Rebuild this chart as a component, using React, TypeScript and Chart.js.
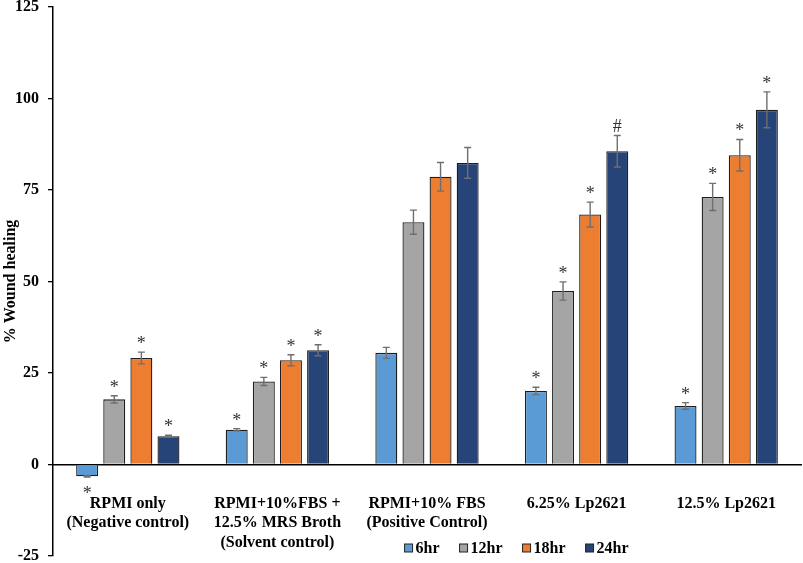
import React, { useEffect, useRef } from "react";
import Chart from "chart.js/auto";

const categories = [
  ["RPMI only", "(Negative control)"],
  ["RPMI+10%FBS +", "12.5% MRS Broth", "(Solvent control)"],
  ["RPMI+10% FBS", "(Positive Control)"],
  "6.25% Lp2621",
  "12.5% Lp2621",
];
const seriesNames = ["6hr", "12hr", "18hr", "24hr"];
const values6 = [-3.2, 9.5, 30.5, 20.1, 16.0];
const values12 = [17.8, 22.7, 66.2, 47.4, 73.1];
const values18 = [29.1, 28.5, 78.6, 68.3, 84.5];
const values24 = [7.7, 31.2, 82.4, 85.6, 96.9];
const err6 = [0.2, 0.3, 1.5, 1.0, 0.9];
const err12 = [1.0, 1.1, 3.3, 2.5, 3.7];
const err18 = [1.6, 1.5, 3.9, 3.4, 4.3];
const err24 = [0.3, 1.5, 4.2, 4.3, 4.9];
const marks6 = ["*", "*", "", "*", "*"];
const marks12 = ["*", "*", "", "*", "*"];
const marks18 = ["*", "*", "", "*", "*"];
const marks24 = ["*", "*", "", "#", "*"];
const colors = ["#5B9BD5", "#A5A5A5", "#ED7D31", "#264478"];

const allValues = [values6, values12, values18, values24];
const allErrors = [err6, err12, err18, err24];
const allMarks = [marks6, marks12, marks18, marks24];

const FONT = "'Liberation Serif', 'Times New Roman', serif";

// error bars + significance marks
const errorBarPlugin = {
  id: "errorBars",
  afterDatasetsDraw(chart: any) {
    const ctx = chart.ctx;
    const yScale = chart.scales.y;
    ctx.save();
    chart.data.datasets.forEach((ds: any, i: number) => {
      const meta = chart.getDatasetMeta(i);
      meta.data.forEach((bar: any, j: number) => {
        const v = ds.data[j];
        const e = allErrors[i][j];
        const top = yScale.getPixelForValue(v + e);
        const bot = yScale.getPixelForValue(v - e);
        ctx.strokeStyle = "#6f6f6f";
        ctx.lineWidth = 1.4;
        ctx.beginPath();
        ctx.moveTo(bar.x, top);
        ctx.lineTo(bar.x, bot);
        ctx.moveTo(bar.x - 3.5, top);
        ctx.lineTo(bar.x + 3.5, top);
        ctx.moveTo(bar.x - 3.5, bot);
        ctx.lineTo(bar.x + 3.5, bot);
        ctx.stroke();

        const m = allMarks[i][j];
        if (m) {
          ctx.fillStyle = "#333";
          ctx.font = "18px " + FONT;
          ctx.textAlign = "center";
          ctx.textBaseline = "alphabetic";
          if (v >= 0) ctx.fillText(m, bar.x, top - 3);
          else ctx.fillText(m, bar.x, bot + 22);
        }
      });
    });
    ctx.restore();
  },
};

const legendPlugin = {
  id: "innerLegend",
  afterDraw(chart: any) {
    const ctx = chart.ctx;
    const area = chart.chartArea;
    ctx.save();
    ctx.font = "bold 16px " + FONT;
    ctx.textBaseline = "middle";
    ctx.textAlign = "left";
    let x = area.left + area.width * 0.47;
    const y = area.bottom - 8;
    chart.data.datasets.forEach((ds: any) => {
      ctx.fillStyle = ds.backgroundColor;
      ctx.fillRect(x, y - 4, 8, 8);
      ctx.strokeStyle = "#222";
      ctx.lineWidth = 1;
      ctx.strokeRect(x, y - 4, 8, 8);
      ctx.fillStyle = "#000";
      ctx.fillText(ds.label, x + 11, y + 1);
      x += 11 + ctx.measureText(ds.label).width + 20;
    });
    ctx.restore();
  },
};

const WoundChart = () => {
  const chartRef = useRef<any>(null);
  const chartInstanceRef = useRef<any>(null);

  useEffect(() => {
    const ctx = chartRef.current.getContext("2d");
    if (chartInstanceRef.current) chartInstanceRef.current.destroy();

    chartInstanceRef.current = new Chart(ctx, {
      type: "bar",
      data: {
        labels: categories,
        datasets: seriesNames.map((name, i) => ({
          label: name,
          data: allValues[i],
          backgroundColor: colors[i],
          borderColor: "#1e1e1e",
          borderWidth: 1.3,
          categoryPercentage: 0.725,
          barPercentage: 0.81,
        })),
      },
      options: {
        animation: false,
        responsive: true,
        maintainAspectRatio: false,
        layout: { padding: { top: 0, right: 2, bottom: 7, left: 0 } },
        plugins: {
          legend: { display: false },
          tooltip: { enabled: false },
        },
        scales: {
          x: {
            position: { y: 0 } as any,
            afterFit: (scale: any) => {
              scale.height = 0;
              scale.paddingLeft = 0;
              scale.paddingRight = 0;
            },
            grid: { display: true, drawOnChartArea: false, drawTicks: false },
            border: { display: true, color: "#000", width: 1.5 },
            ticks: {
              color: "#000",
              padding: 30,
              font: { family: FONT, size: 16, weight: "bold", lineHeight: 1.2 },
              maxRotation: 0,
              autoSkip: false,
            },
          },
          y: {
            min: -25,
            max: 125,
            afterFit: (scale: any) => {
              scale.width = 53;
              scale.paddingTop = 7;
              scale.paddingBottom = 0;
            },
            ticks: {
              stepSize: 25,
              color: "#000",
              padding: 9,
              font: { family: FONT, size: 16, weight: "bold", lineHeight: 0.875 },
            },
            grid: {
              drawOnChartArea: false,
              drawTicks: true,
              tickLength: 5,
              color: "#000",
              lineWidth: 1.3,
            },
            border: { display: true, color: "#000", width: 1.5 },
            title: {
              display: true,
              text: "% Wound healing",
              color: "#000",
              padding: { top: 1, bottom: 0 },
              font: { family: FONT, size: 16, weight: "bold" },
            },
          },
        },
      },
      plugins: [errorBarPlugin, legendPlugin],
    });

    return () => {
      if (chartInstanceRef.current) chartInstanceRef.current.destroy();
    };
  }, []);

  return <canvas ref={chartRef} />;
};

export default function App() {
  return (
    <div
      style={{
        position: "absolute",
        left: 0,
        top: 0,
        width: 803,
        height: 563,
        background: "#fff",
      }}
    >
      <WoundChart />
    </div>
  );
}
